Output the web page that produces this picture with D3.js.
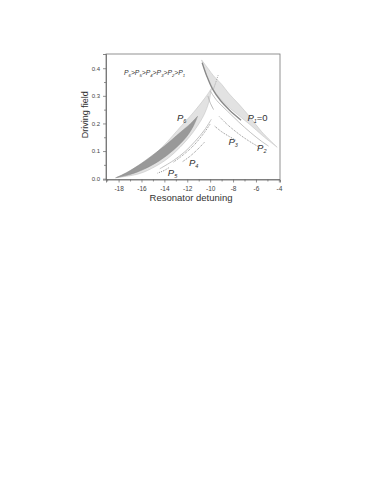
<!DOCTYPE html>
<html>
<head>
<meta charset="utf-8">
<script src="https://cdn.jsdelivr.net/npm/d3@7"></script>
<style>
  html, body { margin: 0; padding: 0; background: #fff; }
  svg { display: block; font-family: "Liberation Sans", Arial, sans-serif; }
</style>
</head>
<body>
<svg id="chart" width="382" height="494"></svg>
<script>
/* ── Data (detuning, driving field) ─────────────────────────── */
const xTicks = [-18, -16, -14, -12, -10, -8, -6, -4];
const yTicks = [0.0, 0.1, 0.2, 0.3, 0.4];

/* P1 = 0 : right branch of the bistable region */
const p1Upper = [[-10.75, 0.43], [-10.2, 0.40], [-9.7, 0.372], [-9.0, 0.342], [-8.4, 0.31],
                 [-7.5, 0.27], [-6.5, 0.222], [-5.5, 0.17], [-4.15, 0.114]];
const p1Lower = [[-10.75, 0.43], [-10.45, 0.39], [-10.15, 0.36], [-9.6, 0.315], [-8.8, 0.275],
                 [-7.6, 0.232], [-6.5, 0.195], [-5.4, 0.155], [-4.15, 0.114]];

/* P6 : left branch, light outer region */
const p6Upper = [[-9.9, 0.326], [-10.5, 0.29], [-11.5, 0.238], [-12.5, 0.192], [-14.1, 0.118],
                 [-15.2, 0.076], [-16.2, 0.044], [-17.3, 0.018], [-18.3, 0.003]];
const p6Lower = [[-9.9, 0.326], [-10.1, 0.28], [-10.6, 0.226], [-11.8, 0.152], [-13.5, 0.08],
                 [-14.8, 0.044], [-16.2, 0.018], [-18.3, 0.003]];

/* P6 : inner dark region */
const p6DarkUpper = [[-11.1, 0.226], [-11.7, 0.2], [-12.6, 0.168], [-14.0, 0.118], [-15.0, 0.086],
                     [-16.2, 0.05], [-17.3, 0.022], [-18.2, 0.004]];
const p6DarkLower = [[-11.1, 0.226], [-11.45, 0.192], [-12.1, 0.15], [-13.2, 0.104], [-14.4, 0.066],
                     [-15.8, 0.034], [-17.0, 0.015], [-18.2, 0.004]];

/* boundary curves for P2..P5 */
const p1Inner   = [[-10.7, 0.42], [-10.3, 0.372], [-9.8, 0.325], [-9.1, 0.283], [-8.3, 0.248], [-7.3, 0.212]];
const p2Solid   = [[-10.0, 0.318], [-9.4, 0.282], [-8.5, 0.245], [-7.5, 0.205], [-6.5, 0.168], [-5.5, 0.135], [-4.9, 0.118]];
const p2Dotted  = [[-9.2, 0.225], [-8.5, 0.196], [-7.5, 0.162], [-6.6, 0.136], [-5.8, 0.116]];
const p3Dotted  = [[-9.6, 0.19], [-9.0, 0.17], [-8.3, 0.152], [-7.7, 0.138]];
const cuspTop   = [[-9.3, 0.375], [-9.5, 0.35], [-9.75, 0.32]];
const cuspLeft  = [[-10.2, 0.3], [-10.0, 0.275], [-9.7, 0.25]];
const p5Solid   = [[-9.9, 0.215], [-10.5, 0.176], [-11.3, 0.136], [-12.2, 0.098], [-13.2, 0.066], [-14.4, 0.036]];
const p5Dotted  = [[-10.0, 0.198], [-10.6, 0.162], [-11.4, 0.122], [-12.3, 0.088], [-13.2, 0.06]];
const p4Dotted  = [[-10.5, 0.132], [-11.1, 0.106], [-11.8, 0.08], [-12.4, 0.062]];
const p5Short   = [[-13.6, 0.04], [-14.0, 0.03], [-14.6, 0.02]];

/* label positions (data units) */
const labels = [
  { sub: "6", tail: "",   x: -12.9,  y: 0.21 },
  { sub: "1", tail: "=0", x: -6.75,  y: 0.21 },
  { sub: "3", tail: "",   x: -8.4,   y: 0.122 },
  { sub: "2", tail: "",   x: -5.9,   y: 0.1 },
  { sub: "4", tail: "",   x: -11.85, y: 0.046 },
  { sub: "5", tail: "",   x: -13.7,  y: 0.008 }
];
const orderSubs = ["6", "5", "4", "3", "2", "1"];

/* ── Scales ─────────────────────────────────────────────────── */
const svg = d3.select("#chart");
const L = 106, R = 280, T = 54, B = 179.5;
const x = d3.scaleLinear().domain([-19.1, -3.9]).range([L, R]);
const y = d3.scaleLinear().domain([-0.003, 0.4515]).range([B, T]);

const line = d3.line().x(d => x(d[0])).y(d => y(d[1])).curve(d3.curveCatmullRom.alpha(0.5));

function band(upper, lower) {
  const a = line(upper);
  const b = line(lower.slice().reverse());
  return a + "L" + b.slice(1) + "Z";
}

const g = svg.append("g");

/* light regions */
g.append("path").attr("d", band(p6Upper, p6Lower))
  .attr("fill", "#e2e2e2").attr("stroke", "#c4c4c4").attr("stroke-width", 0.6);
g.append("path").attr("d", band(p1Upper, p1Lower))
  .attr("fill", "#e2e2e2").attr("stroke", "#c4c4c4").attr("stroke-width", 0.6);

/* dark region */
g.append("path").attr("d", band(p6DarkUpper, p6DarkLower))
  .attr("fill", "#999").attr("stroke", "#8a8a8a").attr("stroke-width", 0.5);

/* boundary lines */
const curves = [
  { d: p1Inner,  stroke: "#888", w: 1.3, dash: null },
  { d: p2Solid,  stroke: "#bbb", w: 0.9, dash: null },
  { d: p2Dotted, stroke: "#888", w: 0.9, dash: "1,1" },
  { d: p3Dotted, stroke: "#888", w: 0.9, dash: "1,1" },
  { d: cuspTop,  stroke: "#999", w: 0.8, dash: "1,1" },
  { d: cuspLeft, stroke: "#aaa", w: 0.8, dash: null },
  { d: p5Solid,  stroke: "#bbb", w: 0.9, dash: null },
  { d: p5Dotted, stroke: "#888", w: 0.9, dash: "1,1" },
  { d: p4Dotted, stroke: "#888", w: 0.9, dash: "1,1" },
  { d: p5Short,  stroke: "#888", w: 0.9, dash: "1,1" }
];
curves.forEach(c => {
  g.append("path").attr("d", line(c.d)).attr("fill", "none")
    .attr("stroke", c.stroke).attr("stroke-width", c.w)
    .attr("stroke-dasharray", c.dash);
});

/* ── Frame and axes ─────────────────────────────────────────── */
svg.append("rect").attr("x", L).attr("y", T).attr("width", R - L).attr("height", B - T)
  .attr("fill", "none").attr("stroke", "#777").attr("stroke-width", 0.8);

const xAxis = svg.append("g").attr("transform", `translate(0,${B})`)
  .call(d3.axisBottom(x).tickValues(xTicks).tickSize(3).tickFormat(d => String(d)));
svg.append("g").attr("transform", `translate(0,${B})`)
  .call(d3.axisBottom(x).tickValues(d3.range(-19, -3, 2)).tickSize(2).tickFormat(""))
  .call(a => a.select(".domain").remove());

const yAxis = svg.append("g").attr("transform", `translate(${L},0)`)
  .call(d3.axisLeft(y).tickValues(yTicks).tickSize(3).tickPadding(3).tickFormat(d3.format(".1f")));
svg.append("g").attr("transform", `translate(${L},0)`)
  .call(d3.axisLeft(y).tickValues([0.05, 0.15, 0.25, 0.35]).tickSize(2).tickFormat(""))
  .call(a => a.select(".domain").remove());

svg.selectAll(".tick line").attr("stroke", "#666").attr("stroke-width", 0.7);
svg.selectAll(".domain").attr("stroke", "#666").attr("stroke-width", 0.8);
xAxis.selectAll("text").attr("font-size", 6.5).attr("fill", "#444").attr("dy", "0.9em");
yAxis.selectAll("text").attr("font-size", 6).attr("fill", "#444");

svg.append("text").attr("x", (L + R) / 2 - 2).attr("y", 201)
  .attr("text-anchor", "middle").attr("font-size", 9.5).attr("fill", "#333")
  .text("Resonator detuning");
svg.append("text").attr("transform", `translate(88,${(T + B) / 2 - 2}) rotate(-90)`)
  .attr("text-anchor", "middle").attr("font-size", 9).attr("fill", "#333")
  .text("Driving field");

/* ── Labels ─────────────────────────────────────────────────── */
const order = svg.append("text").attr("x", 124).attr("y", 75)
  .attr("font-size", 6.8).attr("fill", "#333").attr("font-style", "italic");
orderSubs.forEach((s, i) => {
  order.append("tspan").attr("dy", i ? -1.5 : 0).text((i ? ">" : "") + "P");
  order.append("tspan").attr("font-size", 4.2).attr("dy", 1.5).text(s);
});

labels.forEach(l => {
  const t = svg.append("text").attr("x", x(l.x)).attr("y", y(l.y))
    .attr("font-size", 9.5).attr("fill", "#333").attr("font-style", "italic");
  t.append("tspan").text("P");
  t.append("tspan").attr("font-size", 5.5).attr("dy", 2).text(l.sub);
  if (l.tail) t.append("tspan").attr("dy", -2).attr("font-style", "normal").text(l.tail);
});
</script>
</body>
</html>
